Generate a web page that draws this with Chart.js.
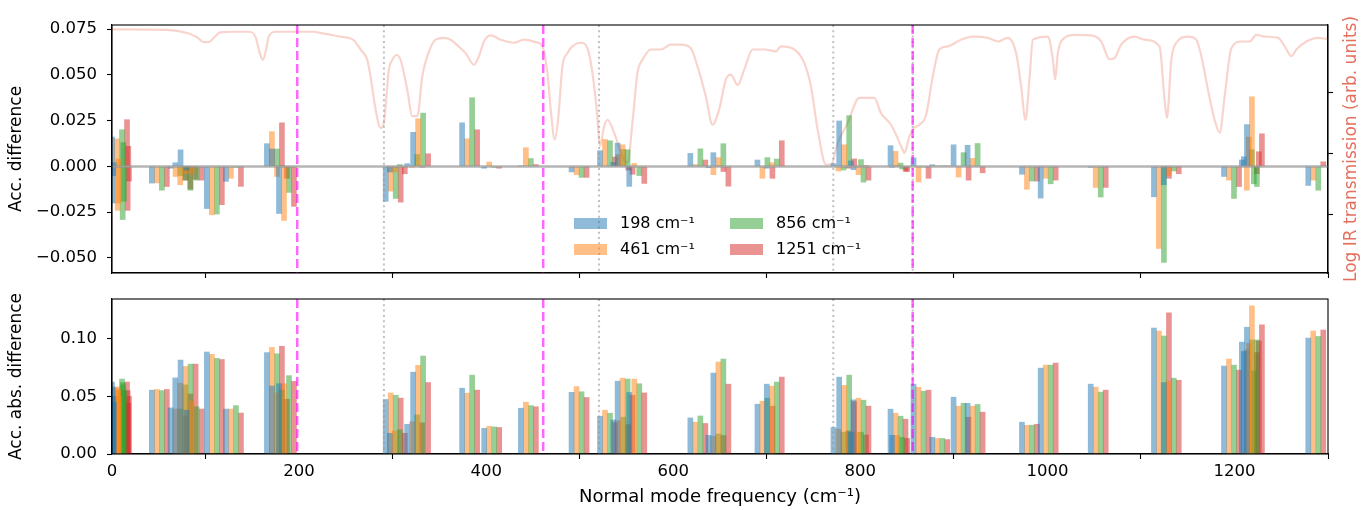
<!DOCTYPE html>
<html>
<head>
<meta charset="utf-8">
<script src="https://cdn.jsdelivr.net/npm/chart.js@4.4.1/dist/chart.umd.min.js"></script>
<style>
  body { margin: 0; background: #fff; }
  #wrap { position: relative; width: 1362px; height: 510px; }
  #topBox { position: absolute; left: 0; top: 0; width: 1362px; height: 285px; }
  #botBox { position: absolute; left: 0; top: 285px; width: 1362px; height: 225px; }
</style>
</head>
<body>
<div id="wrap">
  <div id="topBox"><canvas id="topChart" width="1362" height="285"></canvas></div>
  <div id="botBox"><canvas id="botChart" width="1362" height="225"></canvas></div>
</div>
<script>
// normal mode frequencies (cm-1), one group of 4 bars per mode
const modeFreq = [0, 0.7, 1.4, 2.1, 42.6, 62.6, 67.6, 73.3, 79.7, 101.4, 121.8, 165.6, 171, 178.5,
  292.6, 297, 315.5, 321.9, 374.3, 397.9, 437.1, 491.3, 521.7, 535.9, 540.5, 553,
  618.3, 637.6, 642.9, 690, 700, 771.3, 777.4, 790, 792.7, 832.3, 834, 856.9, 876.9,
  899.7, 914.7, 972.8, 992.8, 1046.3, 1113.9, 1124.4, 1188.8, 1207.9, 1210, 1213.3, 1278.9];

// accumulated difference (top panel)
const diff198 = [0.016, -0.020, -0.005, 0.002, -0.0091, -0.001, 0.002, 0.009, -0.002, -0.023, -0.0082, 0.0124, 0.0095, -0.0257,
  -0.0191, -0.003, 0.0015, 0.0186, 0.0238, -0.001, 0.0003, -0.003, 0.0086, 0.0022, 0.0127, -0.0109,
  0.0071, -0.0007, 0.0075, 0.0035, -0.001, 0.0015, 0.0248, 0.003, -0.0018, 0.0113, -0.0005, 0.0047, 0.0009,
  0.0118, 0.0115, -0.0043, -0.0173, -0.0005, -0.0166, -0.010, -0.0055, 0.0035, 0.0053, 0.0228, -0.0104];
const diff461 = [0.015, -0.024, 0.004, -0.020, -0.009, -0.0055, -0.010, -0.004, -0.004, -0.0264, -0.0065, 0.019, -0.0055, -0.0295,
  -0.0135, -0.003, -0.0005, 0.026, 0.0151, 0.0024, 0.0102, -0.0045, 0.0147, 0.0065, 0.0118, 0.0016,
  0.001, -0.0045, 0.0048, -0.0065, 0.002, -0.0025, 0.0118, 0.0, -0.0045, 0.0082, 0.0005, -0.0085, 0.0003,
  -0.0058, 0.0044, -0.0125, -0.0065, -0.0115, -0.0448, -0.005, -0.0075, -0.013, 0.016, 0.038, -0.0075];
const diff856 = [0.020, -0.029, 0.013, -0.019, -0.013, -0.005, -0.0075, -0.013, -0.0075, -0.026, -0.0005, 0.0095, 0.0005, -0.0142,
  -0.0175, 0.001, 0.0065, 0.0291, 0.0375, -0.0005, 0.0043, -0.006, 0.014, 0.0092, 0.0091, -0.005,
  0.0096, 0.0002, 0.0124, 0.0048, 0.004, -0.002, 0.0277, 0.0037, -0.0086, 0.0018, -0.0014, -0.0003, 0.0003,
  0.0075, 0.0125, -0.008, -0.0095, -0.0167, -0.0524, -0.0025, -0.0175, 0.0091, -0.0095, -0.011, -0.013];
const diff1251 = [0.0255, -0.024, 0.011, -0.008, -0.011, -0.0075, -0.0124, -0.007, -0.0075, -0.0209, -0.0109, 0.0238, -0.0065, -0.0218,
  -0.0195, -0.004, -0.0005, 0.0069, 0.020, -0.001, 0.001, -0.006, 0.0051, -0.002, -0.0043, -0.0093,
  0.0035, -0.0028, -0.0108, -0.0065, 0.014, -0.001, 0.0041, 0.0005, -0.0075, -0.0027, -0.0027, -0.0065, 0.0002,
  -0.0075, -0.0035, -0.008, -0.0075, -0.0115, -0.0065, -0.004, -0.011, -0.004, 0.008, 0.0178, 0.0025];

// accumulated absolute difference (bottom panel)
const abs198 = [0.0624, 0.058, 0.050, 0.045, 0.0554, 0.040, 0.066, 0.0815, 0.038, 0.0885, 0.039, 0.088, 0.059, 0.061,
  0.0473, 0.018, 0.0258, 0.071, 0.0571, 0.0223, 0.0397, 0.0535, 0.0328, 0.0295, 0.0632, 0.0534,
  0.0313, 0.0162, 0.0702, 0.0432, 0.0606, 0.023, 0.0667, 0.0189, 0.047, 0.0389, 0.0162, 0.0606, 0.0145,
  0.0493, 0.044, 0.0276, 0.0745, 0.0606, 0.1093, 0.062, 0.0763, 0.0971, 0.089, 0.110, 0.1006];
const abs461 = [0.0583, 0.057, 0.055, 0.050, 0.056, 0.039, 0.0615, 0.076, 0.046, 0.0865, 0.039, 0.0925, 0.053, 0.061,
  0.053, 0.020, 0.028, 0.077, 0.0528, 0.024, 0.045, 0.0585, 0.038, 0.029, 0.0658, 0.065,
  0.0276, 0.0154, 0.0798, 0.0458, 0.0589, 0.0215, 0.0595, 0.0189, 0.0484, 0.0354, 0.0162, 0.058, 0.0135,
  0.0415, 0.0415, 0.0249, 0.0771, 0.058, 0.1067, 0.063, 0.0824, 0.0905, 0.096, 0.1285, 0.1067];
const abs856 = [0.065, 0.062, 0.060, 0.055, 0.055, 0.039, 0.060, 0.078, 0.041, 0.083, 0.042, 0.087, 0.0555, 0.068,
  0.051, 0.021, 0.034, 0.085, 0.0684, 0.0235, 0.042, 0.054, 0.0354, 0.0319, 0.065, 0.061,
  0.033, 0.0173, 0.0824, 0.0484, 0.0624, 0.019, 0.0684, 0.0189, 0.0467, 0.0328, 0.0144, 0.0545, 0.0135,
  0.044, 0.043, 0.025, 0.0771, 0.0537, 0.1024, 0.0658, 0.0771, 0.099, 0.072, 0.099, 0.102];
const abs1251 = [0.0624, 0.055, 0.044, 0.050, 0.056, 0.033, 0.052, 0.078, 0.039, 0.082, 0.0355, 0.0935, 0.0475, 0.063,
  0.0485, 0.018, 0.027, 0.062, 0.0554, 0.023, 0.041, 0.049, 0.0273, 0.0255, 0.051, 0.053,
  0.0265, 0.016, 0.0606, 0.0415, 0.0667, 0.020, 0.0455, 0.0165, 0.0415, 0.0302, 0.0135, 0.0554, 0.0125,
  0.0319, 0.0363, 0.0258, 0.0789, 0.0554, 0.1224, 0.064, 0.0728, 0.088, 0.098, 0.112, 0.1076];

// log IR transmission trace (arb. units)
const irFreq = [0, 58.9, 80.3, 91, 98, 103.4, 108.7, 115.9, 130.1, 146.2, 153.3, 158, 161.2, 164.8, 167.6, 174.7,
  190.8, 201.5, 215.7, 222.9, 230, 244.3, 258.5, 265.7, 272.9, 276.4, 281.8, 287.1, 290.6, 296, 299.6, 304.2,
  308.5, 315.7, 321, 326.4, 331.7, 337.1, 346, 354.9, 362, 372.7, 378.1, 386.9, 392.3, 397.6, 404.8, 415.5,
  429.8, 440.5, 453, 460.1, 465.5, 469, 473.3, 476.9, 481.5, 486.9, 492.2, 501.1, 508.3, 513.6, 518.2, 521.8,
  526.1, 529.7, 536.8, 545.7, 551.1, 556.4, 561.8, 567.1, 576, 586.7, 597.4, 608.1, 618.8, 626, 634.9, 642,
  649.1, 656.3, 661.6, 668.8, 675.9, 684.9, 697.3, 709.8, 715.1, 729.4, 740.1, 747.2, 754.4, 763.3, 768.6,
  775.8, 786.5, 798.9, 815, 822.1, 832.8, 845.4, 847.1, 852.5, 857.8, 863.2, 870.3, 877.5, 884.5, 893.5,
  907.7, 920.3, 936.3, 947, 957.7, 966.6, 971.9, 976.6, 980.8, 984.5, 1000.5, 1005.9, 1008.3, 1011.2,
  1018.3, 1029, 1046.9, 1057.6, 1066.4, 1071.8, 1078.9, 1093.2, 1103.9, 1119.9, 1125.3, 1127.8, 1132.5,
  1137.8, 1150.3, 1159.2, 1164.6, 1171.7, 1178.8, 1184.2, 1189.5, 1196.7, 1207.4, 1216.3, 1223.4, 1232.3,
  1246.7, 1253.7, 1260.9, 1266.2, 1276.9, 1289.4, 1300];
const irLogT = [4.03, 4.02, 3.97, 3.90, 3.82, 3.82, 3.89, 3.98, 3.99, 3.99, 3.91, 3.64, 3.53, 3.70, 3.91, 3.99,
  3.99, 3.99, 3.99, 3.97, 3.95, 3.91, 3.85, 3.70, 3.53, 3.26, 2.72, 2.42, 2.50, 3.37, 3.53, 3.61,
  3.53, 3.04, 2.61, 2.61, 3.26, 3.59, 3.86, 3.89, 3.86, 3.72, 3.64, 3.45, 3.59, 3.83, 3.93, 3.86,
  3.81, 3.86, 3.82, 3.75, 3.32, 2.72, 2.23, 2.55, 3.42, 3.64, 3.75, 3.81, 3.72, 3.32, 2.72, 2.12,
  2.44, 2.55, 2.34, 1.95, 1.85, 2.50, 3.32, 3.53, 3.70, 3.70, 3.78, 3.78, 3.72, 3.42, 2.93, 2.47,
  2.72, 3.21, 3.29, 3.12, 3.37, 3.70, 3.70, 3.67, 3.75, 3.70, 3.48, 3.10, 2.39, 1.82, 1.82,
  2.17, 2.50, 2.91, 2.91, 2.66, 2.47, 2.06, 2.01, 2.28, 2.42, 2.47, 2.63, 3.26, 3.70, 3.75,
  3.86, 3.91, 3.89, 3.83, 3.89, 3.64, 3.10, 2.55, 3.21, 3.86, 3.91, 3.53, 3.21, 3.64,
  3.89, 3.94, 3.93, 3.83, 3.54, 3.56, 3.78, 3.91, 3.86, 3.75, 2.88, 2.58, 3.53,
  3.81, 3.91, 3.86, 3.59, 3.04, 2.55, 2.34, 2.93, 3.72, 3.83, 3.83, 3.94, 3.91,
  3.89, 3.75, 3.59, 3.70, 3.83, 3.89, 3.87];

const seriesLabels = ['198 cm⁻¹', '461 cm⁻¹', '856 cm⁻¹', '1251 cm⁻¹'];
const laserLines = [198, 461, 856];          // magenta dashed
const peakLines = [290.7, 520.7, 771.1, 856]; // grey dotted
const irTicks = [1, 2, 3];

const seriesColors = ['rgba(31,119,180,0.5)', 'rgba(255,127,14,0.5)', 'rgba(44,160,44,0.5)', 'rgba(214,39,40,0.5)'];
const barShift = 5.35; // offset between the four bars of one mode

Chart.defaults.font.family = 'DejaVu Sans';
Chart.defaults.font.size = 16.5;
Chart.defaults.color = '#000';
Chart.defaults.animation = false;

function barSets(lists) {
  return lists.map((vals, k) => ({
    type: 'bar',
    label: seriesLabels[k],
    data: modeFreq.map((f, i) => ({ x: f + k * barShift, y: vals[i] })),
    backgroundColor: seriesColors[k],
    borderWidth: 0,
    barThickness: 5,
    grouped: false,
    order: 1
  }));
}

// fixed box sizes so both panels line up, no extra label padding
const fixW = w => s => { s.width = w; s.paddingTop = 0; s.paddingBottom = 0; };
const fixH = h => s => { s.height = h; s.paddingLeft = 0; s.paddingRight = 0; };

// vertical marker lines, zero line and full frame
const marks = {
  id: 'marks',
  afterDatasetsDraw(chart, args, opts) {
    const { ctx, chartArea: a, scales } = chart;
    const x = scales.x;
    ctx.save();
    ctx.beginPath();
    ctx.rect(a.left, a.top, a.width, a.height);
    ctx.clip();
    if (opts.zero) {
      const y0 = scales.y.getPixelForValue(0);
      ctx.strokeStyle = 'rgba(150,150,150,0.7)';
      ctx.lineWidth = 2.5;
      ctx.beginPath(); ctx.moveTo(a.left, y0); ctx.lineTo(a.right, y0); ctx.stroke();
    }
    ctx.strokeStyle = 'rgba(150,150,150,0.6)';
    ctx.lineWidth = 2;
    ctx.setLineDash([2, 3.3]);
    peakLines.forEach(v => {
      const px = x.getPixelForValue(v);
      ctx.beginPath(); ctx.moveTo(px, a.top); ctx.lineTo(px, a.bottom); ctx.stroke();
    });
    ctx.strokeStyle = 'rgba(255,0,255,0.6)';
    ctx.lineWidth = 2.5;
    ctx.setLineDash([9, 4]);
    laserLines.forEach(v => {
      const px = x.getPixelForValue(v);
      ctx.beginPath(); ctx.moveTo(px, a.top); ctx.lineTo(px, a.bottom); ctx.stroke();
    });
    ctx.restore();
    ctx.save();
    ctx.strokeStyle = '#000';
    ctx.lineWidth = 1.1;
    ctx.strokeRect(a.left, a.top, a.width, a.height);
    ctx.restore();
  }
};

// legend inside the top panel and right axis title
const topExtras = {
  id: 'topExtras',
  afterDraw(chart) {
    const ctx = chart.ctx;
    ctx.save();
    ctx.font = '16px "DejaVu Sans"';
    ctx.textBaseline = 'middle';
    const cols = [574, 730];
    const rows = [223.5, 249.5];
    const place = [[0, 0], [0, 1], [1, 0], [1, 1]];
    place.forEach(([c, r], k) => {
      ctx.fillStyle = seriesColors[k];
      ctx.fillRect(cols[c], rows[r] - 5.5, 33, 11);
      ctx.fillStyle = '#000';
      ctx.fillText(seriesLabels[k], cols[c] + 46, rows[r]);
    });
    ctx.translate(1352, 149);
    ctx.rotate(-Math.PI / 2);
    ctx.textAlign = 'center';
    ctx.fillStyle = '#e3705e';
    ctx.font = '17px "DejaVu Sans"';
    ctx.fillText('Log IR transmission (arb. units)', 0, 0);
    ctx.restore();
  }
};

const tickGrid = { drawOnChartArea: false, tickLength: 5, tickColor: '#000', tickWidth: 1.1 };
const xScale = (labels) => ({
  type: 'linear', min: 0, max: 1300, offset: false,
  ticks: { stepSize: 200, includeBounds: false, padding: 3, callback: v => labels ? String(v) : '' },
  grid: tickGrid,
  border: { color: '#000', width: 1.1 }
});

new Chart(document.getElementById('topChart'), {
  type: 'bar',
  data: {
    datasets: [
      ...barSets([diff198, diff461, diff856, diff1251]),
      {
        type: 'line',
        data: irFreq.map((f, i) => ({ x: f, y: irLogT[i] })),
        yAxisID: 'y2',
        borderColor: 'rgba(232,120,100,0.32)',
        borderWidth: 2.2,
        pointRadius: 0,
        cubicInterpolationMode: 'monotone',
        order: 2
      }
    ]
  },
  options: {
    responsive: false,
    layout: { padding: { top: 25, left: 0, right: 0, bottom: 0 } },
    plugins: { legend: { display: false }, tooltip: { enabled: false }, marks: { zero: true } },
    scales: {
      x: { ...xScale(false), afterFit: fixH(12) },
      y: {
        min: -0.0582, max: 0.0772,
        ticks: { stepSize: 0.025, includeBounds: false, padding: 10,
          callback: v => v.toFixed(3).replace('-', '\u2212') },
        grid: tickGrid,
        border: { color: '#000', width: 1.1 },
        title: { display: true, text: 'Acc. difference', font: { size: 17 }, padding: { top: 6, bottom: 0 } },
        afterFit: fixW(112)
      },
      y2: {
        position: 'right', min: 0.047, max: 4.1,
        ticks: { display: false },
        afterBuildTicks: s => { s.ticks = irTicks.map(v => ({ value: v })); },
        grid: tickGrid,
        border: { color: '#000', width: 1.1 },
        afterFit: fixW(34)
      }
    }
  },
  plugins: [marks, topExtras]
});

new Chart(document.getElementById('botChart'), {
  type: 'bar',
  data: { datasets: barSets([abs198, abs461, abs856, abs1251]) },
  options: {
    responsive: false,
    layout: { padding: { top: 14, left: 0, right: 34, bottom: 0 } },
    plugins: { legend: { display: false }, tooltip: { enabled: false }, marks: { zero: false } },
    scales: {
      x: {
        ...xScale(true),
        title: { display: true, text: 'Normal mode frequency (cm⁻¹)', font: { size: 18 }, padding: { top: 2, bottom: 2 } },
        afterFit: fixH(56)
      },
      y: {
        min: 0, max: 0.1345,
        ticks: { stepSize: 0.05, includeBounds: false, padding: 10, callback: v => v.toFixed(2) },
        grid: tickGrid,
        border: { color: '#000', width: 1.1 },
        title: { display: true, text: 'Acc. abs. difference', font: { size: 17 }, padding: { top: 6, bottom: 0 } },
        afterFit: fixW(112)
      }
    }
  },
  plugins: [marks]
});
</script>
</body>
</html>
